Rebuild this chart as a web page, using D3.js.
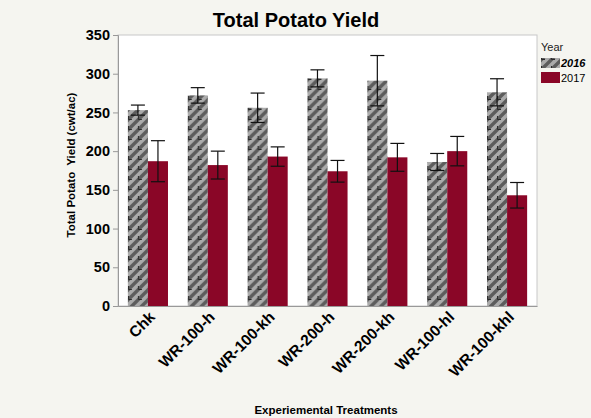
<!DOCTYPE html>
<html>
<head>
<meta charset="utf-8">
<script src="https://cdn.jsdelivr.net/npm/d3@7"></script>
<style>
  body { margin: 0; background: #f5f5f0; }
  svg { display: block; }
  text { font-family: "Liberation Sans", Arial, sans-serif; }
</style>
</head>
<body>
<div id="chart"></div>
<script>
const categories = ["Chk", "WR-100-h", "WR-100-kh", "WR-200-h", "WR-200-kh", "WR-100-hl", "WR-100-khl"];
const years = ["2016", "2017"];
const values2016 = [253, 272, 256, 294, 291, 186, 276];
const err2016    = [6.5, 10, 19, 11, 32.5, 11, 17.5];
const values2017 = [187, 182, 193, 174, 192, 200, 143];
const err2017    = [26.5, 18, 12.5, 14, 18, 19, 16.5];
const yTicks = [0, 50, 100, 150, 200, 250, 300, 350];

const W = 591, H = 418;
const margin = { left: 118, right: 54, top: 35, bottom: 112 };
const svg = d3.select("#chart").append("svg").attr("width", W).attr("height", H);

const defs = svg.append("defs");
const pat = defs.append("pattern").attr("id", "hatch").attr("patternUnits", "userSpaceOnUse")
  .attr("width", 10).attr("height", 10);
pat.append("rect").attr("width", 10).attr("height", 10).attr("fill", "#ababab");
pat.append("path").attr("d", "M0,10 L10,0 M-5,5 L5,-5 M5,15 L15,5").attr("stroke", "#5c5c5c").attr("stroke-width", 3.4);
pat.append("path").attr("d", "M0.5,9.5 H4 M0.5,9.5 V6").attr("stroke", "#2a2a2a").attr("stroke-width", 1).attr("fill", "none");

const x0 = d3.scaleBand().domain(categories).range([margin.left, W - margin.right]).paddingInner(0.33).paddingOuter(0.165);
const x1 = d3.scaleBand().domain(years).range([0, x0.bandwidth()]);
const y = d3.scaleLinear().domain([0, 350]).range([H - margin.bottom, margin.top]);

svg.append("rect").attr("x", margin.left).attr("y", margin.top)
  .attr("width", W - margin.right - margin.left).attr("height", H - margin.bottom - margin.top)
  .attr("fill", "#fff").attr("stroke", "#c8c8c8").attr("stroke-width", 1);

const data = categories.map((c, i) => ({
  cat: c,
  series: [
    { year: "2016", v: values2016[i], e: err2016[i] },
    { year: "2017", v: values2017[i], e: err2017[i] }
  ]
}));

const g = svg.append("g").selectAll("g").data(data).join("g")
  .attr("transform", d => `translate(${x0(d.cat)},0)`);

g.selectAll("rect").data(d => d.series).join("rect")
  .attr("x", d => x1(d.year)).attr("width", x1.bandwidth())
  .attr("y", d => y(d.v)).attr("height", d => y(0) - y(d.v))
  .attr("fill", d => d.year === "2016" ? "url(#hatch)" : "#8a0627");

const cx = d => x1(d.year) + x1.bandwidth() / 2;
const eb = g.selectAll("g.eb").data(d => d.series).join("g").attr("class", "eb")
  .attr("stroke", "#111").attr("stroke-width", 1.2);
eb.append("line").attr("x1", cx).attr("x2", cx)
  .attr("y1", d => y(d.v + d.e)).attr("y2", d => y(d.v - d.e));
eb.append("line").attr("x1", d => cx(d) - 7).attr("x2", d => cx(d) + 7)
  .attr("y1", d => y(d.v + d.e)).attr("y2", d => y(d.v + d.e));
eb.append("line").attr("x1", d => cx(d) - 7).attr("x2", d => cx(d) + 7)
  .attr("y1", d => y(d.v - d.e)).attr("y2", d => y(d.v - d.e));

const yAxis = svg.append("g").attr("transform", `translate(${margin.left},0)`)
  .call(d3.axisLeft(y).tickValues(yTicks).tickSize(5).tickPadding(3));
yAxis.select(".domain").attr("stroke", "#999");
yAxis.selectAll(".tick line").attr("stroke", "#999");
yAxis.selectAll("text").attr("font-size", 14.5).attr("font-weight", "bold").attr("fill", "#000")
  .attr("font-family", "Liberation Sans, Arial, sans-serif");

const xAxis = svg.append("g").attr("transform", `translate(0,${H - margin.bottom})`)
  .call(d3.axisBottom(x0).tickSize(0).tickPadding(0));
xAxis.select(".domain").attr("stroke", "#999");
xAxis.selectAll("text").attr("font-size", 15.5).attr("font-weight", "bold").attr("fill", "#000")
  .attr("font-family", "Liberation Sans, Arial, sans-serif")
  .attr("text-anchor", "end").attr("dy", 0).attr("y", 0)
  .attr("transform", "translate(8,12) rotate(-45)");

svg.append("text").attr("x", 296).attr("y", 27).attr("text-anchor", "middle")
  .attr("font-size", 20).attr("font-weight", "bold").text("Total Potato Yield");

svg.append("text").attr("transform", "translate(75,165) rotate(-90)").attr("text-anchor", "middle")
  .attr("font-size", 11.5).attr("font-weight", "bold").attr("xml:space", "preserve").text("Total Potato  Yield (cwt/ac)");

svg.append("text").attr("x", 326).attr("y", 414).attr("text-anchor", "middle")
  .attr("font-size", 11.5).attr("font-weight", "bold").text("Experiemental Treatments");

const leg = svg.append("g").attr("transform", "translate(541,0)");
leg.append("text").attr("x", 0).attr("y", 51).attr("font-size", 11).attr("fill", "#222").text("Year");
leg.append("rect").attr("x", 0).attr("y", 58).attr("width", 19).attr("height", 10).attr("fill", "url(#hatch)");
leg.append("text").attr("x", 20).attr("y", 67).attr("font-size", 11).attr("font-weight", "bold").attr("font-style", "italic").text("2016");
leg.append("rect").attr("x", 0).attr("y", 72).attr("width", 19).attr("height", 11).attr("fill", "#8a0627");
leg.append("text").attr("x", 20).attr("y", 82).attr("font-size", 11).text("2017");
</script>
</body>
</html>
